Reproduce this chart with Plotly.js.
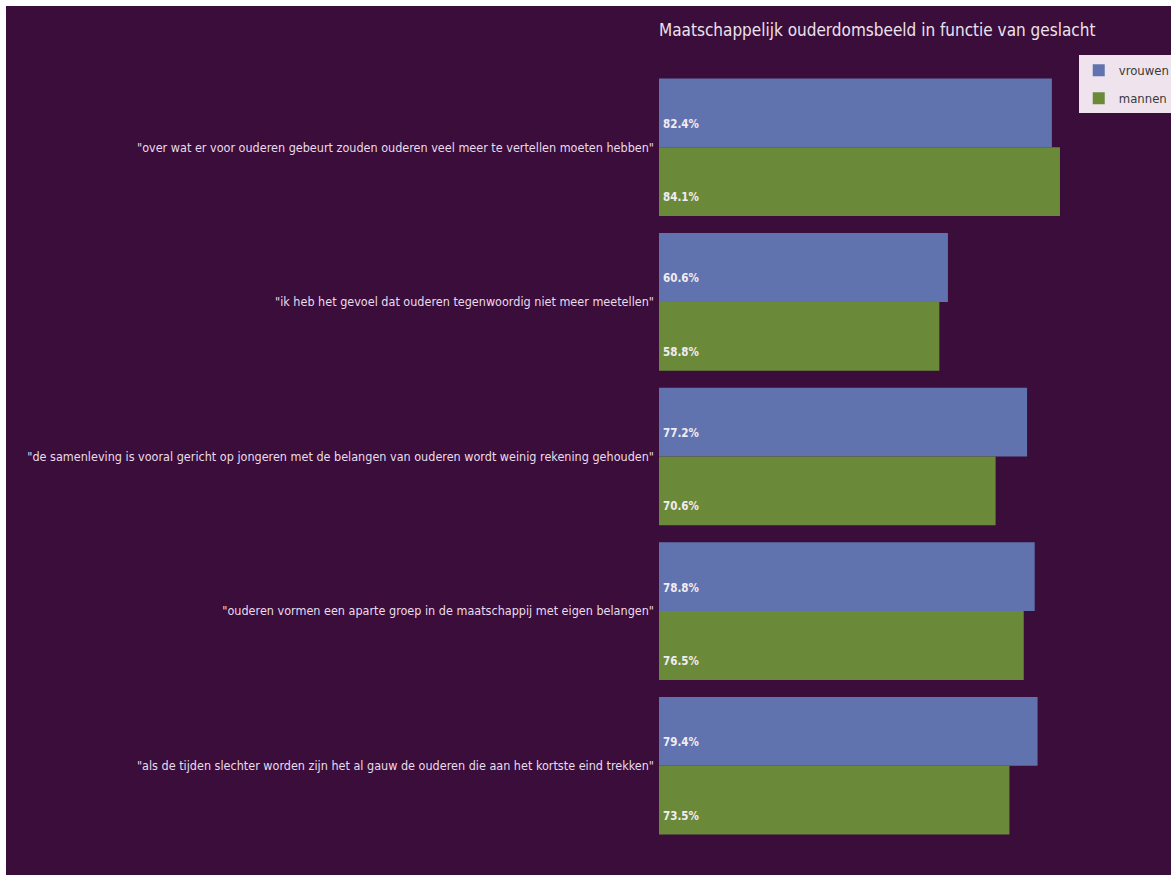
<!DOCTYPE html>
<html>
<head>
<meta charset="utf-8">
<script src="https://cdn.plot.ly/plotly-3.0.1.min.js"></script>
<style>
html,body{margin:0;padding:0;background:#ffffff;width:1171px;height:875px;overflow:hidden;}
#chart{position:absolute;left:6px;top:6px;width:1165px;height:869px;}
</style>
</head>
<body>
<div id="chart"></div>
<script>
const categories = [
  '"over wat er voor ouderen gebeurt zouden ouderen veel meer te vertellen moeten hebben"',
  '"ik heb het gevoel dat ouderen tegenwoordig niet meer meetellen"',
  '"de samenleving is vooral gericht op jongeren met de belangen van ouderen wordt weinig rekening gehouden"',
  '"ouderen vormen een aparte groep in de maatschappij met eigen belangen"',
  '"als de tijden slechter worden zijn het al gauw de ouderen die aan het kortste eind trekken"'
];
const vrouwen = [82.4, 60.6, 77.2, 78.8, 79.4];
const mannen = [84.1, 58.8, 70.6, 76.5, 73.5];
const seriesNames = ['vrouwen', 'mannen'];
const titleText = 'Maatschappelijk ouderdomsbeeld in functie van geslacht';

const narrow = '"DejaVu Sans Condensed", "Liberation Sans Narrow", sans-serif';
const bg = '#3a0d3b';

const traces = [
  {type:'bar', orientation:'h', name:seriesNames[0], y:categories, x:vrouwen, legendgroup:'a',
   marker:{color:'#6073ae'}, hoverinfo:'none'},
  {type:'bar', orientation:'h', name:seriesNames[1], y:categories, x:mannen, legendgroup:'b',
   marker:{color:'#6a8a3a'}, hoverinfo:'none'}
];

const annotations = [];
const half = (1 - 0.11) / 4;
categories.forEach((c, i) => {
  annotations.push({x:0, y:i - half + 0.07, xref:'x', yref:'y', text:vrouwen[i].toFixed(1)+'%',
    showarrow:false, xanchor:'left', yanchor:'middle', xshift:2,
    font:{family:narrow, size:11.5, color:'#f2ecf2', weight:'bold'}});
  annotations.push({x:0, y:i + half + 0.1, xref:'x', yref:'y', text:mannen[i].toFixed(1)+'%',
    showarrow:false, xanchor:'left', yanchor:'middle', xshift:2,
    font:{family:narrow, size:11.5, color:'#f2ecf2', weight:'bold'}});
});

const layout = {
  width:1165, height:869,
  paper_bgcolor:bg, plot_bgcolor:bg,
  margin:{l:653, r:91, t:64, b:32, pad:4, autoexpand:false},
  barmode:'group', bargap:0.11, bargroupgap:0,
  title:{text:titleText, xref:'paper', x:0, xanchor:'left', yref:'container', y:0.972, yanchor:'middle',
    font:{family:narrow, size:17, color:'#ece2ec'}},
  xaxis:{range:[0, 88.3], showgrid:false, zeroline:false, showticklabels:false, ticks:'', showline:false, fixedrange:true},
  yaxis:{type:'category', autorange:'reversed', showgrid:false, zeroline:false, ticks:'', showline:false,
    tickfont:{family:narrow, size:12.5, color:'#eadcea'}},
  legend:{x:0.997, xanchor:'left', y:1.019, yanchor:'top', bgcolor:'#efe4ee', borderwidth:0,
    font:{family:narrow, size:13, color:'#3a3a3a'}, traceorder:'grouped', tracegroupgap:8},
  annotations:annotations,
  showlegend:true
};

Plotly.newPlot('chart', traces, layout, {displayModeBar:false, staticPlot:true});
</script>
</body>
</html>
